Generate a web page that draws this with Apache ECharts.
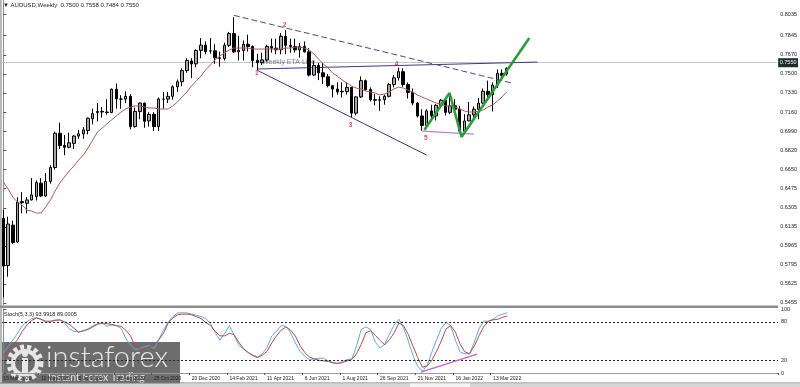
<!DOCTYPE html>
<html><head><meta charset="utf-8">
<script src="https://cdn.jsdelivr.net/npm/echarts@6/dist/echarts.min.js"></script>
<style>html,body{margin:0;padding:0;background:#fff;}#c{width:800px;height:387px;}</style>
</head><body><div id="c"></div>
<script>
// ---- data ----
const timeTickLabels = ['15 Mar 2020','10 May 2020','5 Jul 2020','30 Aug 2020','25 Oct 2020','20 Dec 2020','14 Feb 2021','11 Apr 2021','6 Jun 2021','1 Aug 2021','26 Sep 2021','21 Nov 2021','16 Jan 2022','13 Mar 2022'];
const priceTicks = [0.8035,0.7845,0.7670,0.7500,0.7330,0.7160,0.6990,0.6820,0.6650,0.6475,0.6305,0.6135,0.5965,0.5795,0.5625,0.5455];
const stochTicks = [0,20,80,100];
const stochLevels = [80,20];

const open  = [0.6210,0.5790,0.6150,0.6000,0.6360,0.6345,0.6375,0.6405,0.6525,0.6410,0.6540,0.6665,0.6970,0.6862,0.6845,0.6880,0.6945,0.6965,0.6995,0.7100,0.7155,0.7165,0.7160,0.7155,0.7363,0.7275,0.7275,0.7300,0.7030,0.7165,0.7239,0.7080,0.7140,0.7030,0.7275,0.7275,0.7300,0.7385,0.7430,0.7530,0.7615,0.7590,0.7710,0.7757,0.7705,0.7706,0.7644,0.7638,0.7756,0.7860,0.7697,0.7710,0.7765,0.7745,0.7620,0.7600,0.7625,0.7745,0.7730,0.7716,0.7836,0.7755,0.7745,0.7715,0.7745,0.7697,0.7490,0.7575,0.7510,0.7475,0.7395,0.7365,0.7340,0.7342,0.7380,0.7150,0.7295,0.7440,0.7360,0.7270,0.7265,0.7270,0.7300,0.7405,0.7465,0.7520,0.7405,0.7335,0.7240,0.7125,0.7040,0.7170,0.7125,0.7220,0.7265,0.7157,0.7215,0.7185,0.6990,0.7080,0.7135,0.7185,0.7240,0.7345,0.7315,0.7400,0.7505,0.7500];
const high  = [0.6285,0.6225,0.6190,0.6400,0.6445,0.6400,0.6570,0.6550,0.6570,0.6615,0.6685,0.6985,0.7065,0.6955,0.6975,0.6955,0.7000,0.7025,0.7110,0.7190,0.7240,0.7205,0.7275,0.7370,0.7414,0.7310,0.7345,0.7320,0.7200,0.7245,0.7245,0.7158,0.7158,0.7290,0.7340,0.7340,0.7400,0.7450,0.7550,0.7640,0.7640,0.7720,0.7820,0.7790,0.7820,0.7765,0.7700,0.7780,0.7875,0.8007,0.7840,0.7800,0.7850,0.7755,0.7680,0.7690,0.7760,0.7815,0.7815,0.7865,0.7891,0.7815,0.7815,0.7775,0.7790,0.7730,0.7616,0.7600,0.7600,0.7500,0.7400,0.7425,0.7425,0.7425,0.7380,0.7300,0.7478,0.7450,0.7380,0.7320,0.7300,0.7315,0.7420,0.7490,0.7556,0.7550,0.7425,0.7370,0.7250,0.7185,0.7185,0.7225,0.7230,0.7277,0.7270,0.7315,0.7275,0.7215,0.7140,0.7250,0.7210,0.7285,0.7370,0.7440,0.7425,0.7540,0.7540,0.7558];
const low   = [0.5506,0.5690,0.5980,0.5990,0.6255,0.6255,0.6370,0.6370,0.6400,0.6400,0.6520,0.6645,0.6830,0.6775,0.6835,0.6830,0.6920,0.6920,0.6960,0.7050,0.7075,0.7110,0.7135,0.7150,0.7190,0.7190,0.7240,0.7005,0.7020,0.7095,0.7020,0.7030,0.6991,0.6990,0.7190,0.7240,0.7270,0.7340,0.7390,0.7510,0.7462,0.7560,0.7640,0.7675,0.7680,0.7590,0.7565,0.7620,0.7740,0.7690,0.7620,0.7620,0.7700,0.7560,0.7530,0.7580,0.7610,0.7690,0.7675,0.7675,0.7675,0.7690,0.7690,0.7645,0.7690,0.7477,0.7480,0.7445,0.7410,0.7380,0.7290,0.7315,0.7290,0.7315,0.7106,0.7130,0.7285,0.7350,0.7255,0.7220,0.7170,0.7225,0.7290,0.7380,0.7440,0.7385,0.7280,0.7220,0.7110,0.6993,0.7030,0.7090,0.7085,0.7200,0.7130,0.7140,0.7170,0.6967,0.6990,0.7080,0.7110,0.7095,0.7230,0.7290,0.7165,0.7375,0.7460,0.7484];
const close = [0.5785,0.6160,0.5995,0.6355,0.6350,0.6375,0.6420,0.6530,0.6410,0.6540,0.6665,0.6970,0.6860,0.6845,0.6885,0.6945,0.6965,0.7000,0.7105,0.7145,0.7165,0.7160,0.7155,0.7363,0.7278,0.7275,0.7300,0.7030,0.7165,0.7240,0.7077,0.7139,0.7030,0.7275,0.7275,0.7300,0.7385,0.7430,0.7530,0.7620,0.7590,0.7710,0.7757,0.7700,0.7706,0.7644,0.7638,0.7756,0.7860,0.7697,0.7710,0.7765,0.7745,0.7620,0.7600,0.7625,0.7745,0.7730,0.7716,0.7836,0.7755,0.7745,0.7715,0.7745,0.7697,0.7490,0.7575,0.7510,0.7475,0.7395,0.7365,0.7340,0.7345,0.7380,0.7150,0.7295,0.7440,0.7360,0.7270,0.7265,0.7270,0.7300,0.7405,0.7465,0.7520,0.7405,0.7335,0.7240,0.7125,0.7040,0.7170,0.7125,0.7220,0.7265,0.7157,0.7215,0.7185,0.6990,0.7080,0.7135,0.7185,0.7240,0.7345,0.7315,0.7400,0.7505,0.7485,0.7550];
const movingAvg = [0.6535,0.6473,0.6401,0.6356,0.6330,0.6285,0.6276,0.6258,0.6258,0.6312,0.6374,0.6455,0.6526,0.6580,0.6633,0.6678,0.6731,0.6776,0.6839,0.6910,0.6981,0.7017,0.7053,0.7089,0.7124,0.7160,0.7187,0.7205,0.7214,0.7214,0.7205,0.7196,0.7196,0.7187,0.7187,0.7187,0.7214,0.7249,0.7294,0.7339,0.7392,0.7437,0.7481,0.7535,0.7580,0.7624,0.7660,0.7687,0.7714,0.7731,0.7731,0.7731,0.7731,0.7722,0.7722,0.7722,0.7722,0.7722,0.7722,0.7722,0.7731,0.7731,0.7740,0.7740,0.7731,0.7714,0.7678,0.7633,0.7589,0.7553,0.7508,0.7481,0.7446,0.7419,0.7392,0.7374,0.7365,0.7348,0.7339,0.7330,0.7312,0.7321,0.7339,0.7365,0.7383,0.7374,0.7356,0.7339,0.7312,0.7294,0.7276,0.7258,0.7240,0.7231,0.7214,0.7214,0.7205,0.7187,0.7169,0.7160,0.7160,0.7169,0.7178,0.7205,0.7222,0.7258,0.7294,0.7339];
const stochMain = [31,41,51,62,74,80,85,86,84,79,80,83,83,78,69,65,64,66,69,74,77,78,73,75,74,70,54,44,37,38,41,43,38,52,67,80,88,94,94,94,92,90,88,85,77,63,51,62,74,59,44,37,32,28,25,30,40,58,65,74,73,63,47,34,26,21,22,23,23,19,16,15,18,21,22,42,68,72,68,48,39,45,61,75,84,70,50,27,10,3,12,33,52,70,79,74,51,33,30,30,48,69,81,81,84,89,92,93.9918];
const stochSignal = [28,33,43,52,65,75,82,86,84,81,81,82,83,80,76,70,64,66,68,72,76,78,77,76,74,73,67,58,42,37,38,41,44,52,62,78,86,91,92,92,91,88,85,79,74,65,58,58,62,60,48,38,32,27,24,28,34,47,58,67,72,67,58,43,32,25,22,20,19,18,16,15,16,19,21,30,45,63,66,59,51,44,52,63,78,74,60,42,24,9,11,20,34,50,69,74,64,45,33,30,42,58,72,81,83,84,87,89.0005];

const totalSlots = 165;           // bar slots across the plot width (incl. empty future)
const waveText = ['1','2','3','4','5'];
const wavePos = [[53.9,0.7508],[59.8,0.7937],[73.8,0.7044],[83.6,0.7589],[89.8,0.6928]];
const dashedLine = [[49,0.8023],[108,0.7420]];
const channelLine = [[54,0.7532],[90,0.6775]];
const etaLine = [[53.9,0.7544],[113.5,0.7606]];
const etaText = 'Weekly ETA Line';
const etaTextPos = [[54.9,0.7606]];
const supportLine = [[89,0.6990],[100,0.6963]];
const zigzag = [[89.5,0.6999],[94.85,0.7330],[97.4,0.6937],[111.8,0.7821]];
const stochTrend = [[88.7,1.2],[100.6,29.5]];

// ---- build ----
const categories = Array.from({length: totalSlots}, (_, i) => 'w' + i);
const ohlc = open.map((o, i) => [o, close[i], low[i], high[i]]);
const n = open.length;
const last = n - 1;
const FONT = 'Liberation Sans';

const chart = echarts.init(document.getElementById('c'), null, {renderer: 'canvas'});
const labelInterval = (idx) => idx % 8 === 0 && idx / 8 < timeTickLabels.length;

const option = {
  animation: false,
  backgroundColor: '#ffffff',
  grid: [
    {left: 1, right: 22, top: 0, height: 305},
    {left: 1, right: 22, top: 309, height: 64}
  ],
  xAxis: [
    {type: 'category', gridIndex: 0, data: categories, boundaryGap: true, show: false},
    {type: 'category', gridIndex: 1, data: categories, boundaryGap: true,
      axisLine: {show: true, lineStyle: {color: '#9a9a9a', width: 1}},
      axisTick: {show: true, interval: labelInterval, length: 2, lineStyle: {color: '#555'}},
      axisLabel: {interval: labelInterval, formatter: (v, idx) => timeTickLabels[idx / 8] || '',
        fontSize: 5, fontFamily: FONT, color: '#222', align: 'left', margin: 3}},
    {type: 'value', gridIndex: 0, min: -0.5, max: totalSlots - 0.5, show: false},
    {type: 'value', gridIndex: 1, min: -0.5, max: totalSlots - 0.5, show: false}
  ],
  yAxis: [
    {type: 'value', gridIndex: 0, position: 'right', min: 0.5437, max: 0.8160, scale: true,
      splitLine: {show: false},
      axisLine: {show: true, lineStyle: {color: '#8a8a8a', width: 1}},
      axisTick: {show: true, customValues: priceTicks, length: 3, lineStyle: {color: '#555'}},
      axisLabel: {customValues: priceTicks, formatter: v => v.toFixed(4), fontSize: 5.5, fontFamily: FONT, color: '#222', margin: 3}},
    {type: 'value', gridIndex: 1, position: 'right', min: 0, max: 100,
      splitLine: {show: false},
      axisLine: {show: true, lineStyle: {color: '#8a8a8a', width: 1}},
      axisTick: {show: true, customValues: stochTicks, length: 3, lineStyle: {color: '#555'}},
      axisLabel: {customValues: stochTicks, fontSize: 5.5, fontFamily: FONT, color: '#222', margin: 3}}
  ],
  series: [
    {type: 'scatter', name: 'etaText', xAxisIndex: 2, yAxisIndex: 0, data: etaTextPos, symbolSize: 1,
      itemStyle: {color: 'rgba(0,0,0,0)'}, z: 1, silent: true,
      label: {show: true, position: 'right', distance: 0, formatter: etaText, fontSize: 7, fontFamily: FONT, color: '#5a5a66'}},
    {type: 'line', name: 'eta', xAxisIndex: 2, yAxisIndex: 0, data: etaLine, showSymbol: false, z: 1,
      lineStyle: {color: '#3a3a86', width: 1}},
    {type: 'candlestick', name: 'AUDUSD', xAxisIndex: 0, yAxisIndex: 0, data: ohlc, barWidth: 3, z: 3,
      itemStyle: {color: '#a6a6a6', color0: '#000000', borderColor: '#000000', borderColor0: '#000000', borderWidth: 1},
      markLine: {silent: true, symbol: ['none', 'none'], z: 1,
        lineStyle: {color: '#c4c4c4', width: 1, type: 'solid'},
        label: {show: true, position: 'end', distance: 1, formatter: () => close[last].toFixed(4),
          backgroundColor: '#1c2c2c', color: '#ffffff', fontSize: 5.5, fontFamily: FONT, padding: [1.5, 1.5]},
        data: [{yAxis: close[last]}]}},
    {type: 'line', name: 'MA', xAxisIndex: 0, yAxisIndex: 0, data: movingAvg, showSymbol: false, z: 4,
      lineStyle: {color: '#b25a5a', width: 1}},
    {type: 'line', name: 'dashed', xAxisIndex: 2, yAxisIndex: 0, data: dashedLine, showSymbol: false, z: 5,
      lineStyle: {color: '#4a4a8e', width: 1, type: [6, 3]}},
    {type: 'line', name: 'channel', xAxisIndex: 2, yAxisIndex: 0, data: channelLine, showSymbol: false, z: 5,
      lineStyle: {color: '#34348a', width: 1}},
    {type: 'line', name: 'support', xAxisIndex: 2, yAxisIndex: 0, data: supportLine, showSymbol: false, z: 5,
      lineStyle: {color: '#c47ae0', width: 1.2}},
    {type: 'line', name: 'zigzag', xAxisIndex: 2, yAxisIndex: 0, data: zigzag, showSymbol: false, z: 6,
      lineStyle: {color: '#2a9e38', width: 2.6}},
    {type: 'scatter', name: 'waves', xAxisIndex: 2, yAxisIndex: 0, data: wavePos, symbolSize: 1, z: 7,
      itemStyle: {color: 'rgba(0,0,0,0)'}, silent: true,
      label: {show: true, position: 'inside', formatter: p => waveText[p.dataIndex], fontSize: 6.5, fontWeight: 'bold', fontFamily: FONT, color: '#d42020'}},
    {type: 'line', name: 'stochMain', xAxisIndex: 1, yAxisIndex: 1, data: stochMain, showSymbol: false, z: 4,
      lineStyle: {color: '#62aad6', width: 1},
      markLine: {silent: true, symbol: ['none', 'none'], label: {show: false},
        lineStyle: {color: '#222', width: 1, type: [2, 2]},
        data: stochLevels.map(v => ({yAxis: v}))}},
    {type: 'line', name: 'stochSignal', xAxisIndex: 1, yAxisIndex: 1, data: stochSignal, showSymbol: false, z: 4,
      lineStyle: {color: '#b44a4a', width: 1}},
    {type: 'line', name: 'stochTrend', xAxisIndex: 3, yAxisIndex: 1, data: stochTrend, showSymbol: false, z: 5,
      lineStyle: {color: '#c25fd4', width: 1.3}}
  ],
  graphic: [
    {type: 'rect', shape: {x: 0, y: 0, width: 2, height: 383}, style: {fill: '#b8b8b8'}, z: 10},
    {type: 'rect', shape: {x: 0, y: 305.5, width: 778, height: 2.5}, style: {fill: '#8c8c8c'}, z: 10},
    {type: 'rect', shape: {x: 0, y: 382.5, width: 800, height: 1}, style: {fill: '#7a7a7a'}, z: 10},
    {type: 'rect', shape: {x: 0, y: 383.5, width: 800, height: 3.5}, style: {fill: '#d6d6d6'}, z: 10},
    {type: 'rect', shape: {x: 410, y: 383.5, width: 60, height: 3.5}, style: {fill: '#f4f4f4'}, z: 10},
    {type: 'text', style: {x: 3, y: 5, text: '\u25BC AUDUSD,Weekly  ' + [open[last], high[last], low[last], close[last]].map(v => v.toFixed(4)).join(' '),
      font: '6px "Liberation Sans"', fill: '#222', verticalAlign: 'middle'}, z: 10},
    {type: 'text', style: {x: 4, y: 314, text: 'Stoch(5,3,3) ' + stochMain[last].toFixed(4) + ' ' + stochSignal[last].toFixed(4),
      font: '5.5px "Liberation Sans"', fill: '#222', verticalAlign: 'middle'}, z: 10},
    // watermark
    {type: 'group', z: 20, children: [
      {type: 'rect', shape: {x: 0, y: 342, width: 180, height: 45}, style: {fill: 'rgba(72,72,72,0.8)'}},
      {type: 'circle', shape: {cx: 25, cy: 363, r: 16}, style: {fill: 'none', stroke: '#e6e6e6', lineWidth: 5, lineDash: [4, 3]}},
      {type: 'circle', shape: {cx: 25, cy: 363, r: 12}, style: {fill: 'none', stroke: '#e6e6e6', lineWidth: 4}},
      {type: 'circle', shape: {cx: 25, cy: 354, r: 3}, style: {fill: '#e6e6e6'}},
      {type: 'rect', shape: {x: 22, y: 358, width: 6, height: 15}, style: {fill: '#e6e6e6'}},
      {type: 'text', style: {x: 46, y: 358, text: 'instaforex', font: '300 29px Lato', fill: '#e8e8e8', verticalAlign: 'middle'}},
      {type: 'text', style: {x: 48, y: 378, text: 'Instant Forex Trading', font: '10.5px Lato', fill: '#e0e0e0', verticalAlign: 'middle'}}
    ]}
  ]
};
chart.setOption(option);
</script>
</body></html>
